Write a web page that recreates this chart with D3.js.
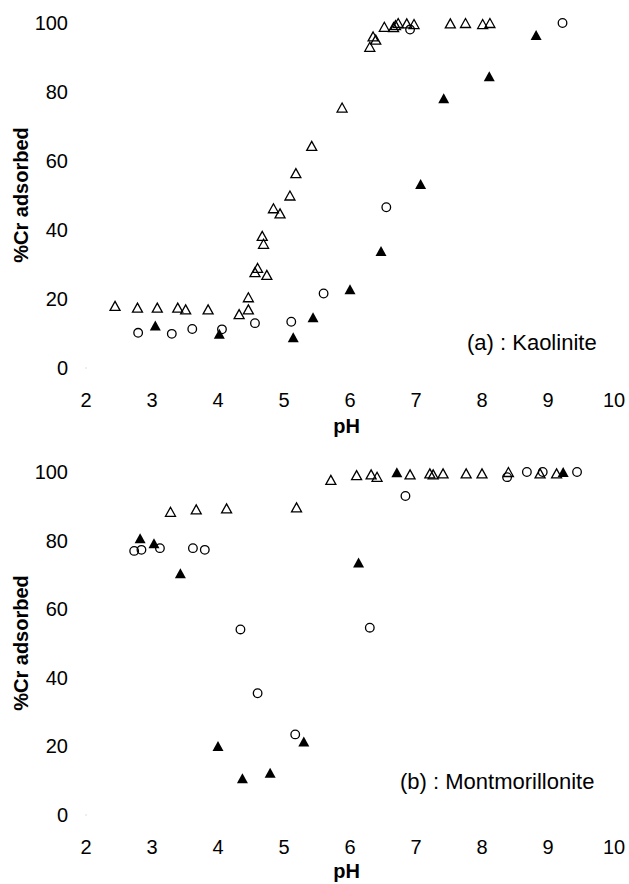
<!DOCTYPE html>
<html>
<head>
<meta charset="utf-8">
<script src="https://cdn.jsdelivr.net/npm/d3@7"></script>
<style>
  html, body { margin: 0; padding: 0; background: #fff; }
  svg { display: block; }
  text { font-family: "Liberation Sans", Arial, sans-serif; fill: #000; }
</style>
</head>
<body>
<svg id="chart" width="629" height="884"></svg>
<script>
// ---------- DATA ----------
const xTicks = [2, 3, 4, 5, 6, 7, 8, 9, 10];
const yTicks = [0, 20, 40, 60, 80, 100];

// (a) Kaolinite
const kaoOpenTri = [
  [2.44, 18.0], [2.78, 17.5], [3.08, 17.5], [3.39, 17.5], [3.51, 17.0], [3.85, 17.0],
  [4.32, 15.6], [4.46, 17.0], [4.46, 20.5], [4.56, 27.8], [4.60, 29.0], [4.74, 27.0],
  [4.69, 36.0], [4.67, 38.3], [4.84, 46.3], [4.94, 44.8], [5.09, 50.0], [5.18, 56.5],
  [5.42, 64.4], [5.88, 75.5], [6.30, 93.1], [6.35, 96.1], [6.39, 95.2], [6.52, 98.9],
  [6.66, 98.8], [6.69, 99.4], [6.73, 100.0], [6.86, 99.9], [6.97, 99.7], [7.52, 99.9],
  [7.75, 100.0], [8.01, 99.7], [8.12, 100.0]
];
const kaoFilledTri = [
  [3.05, 12.3], [4.02, 9.9], [5.14, 8.9], [5.44, 14.7], [6.00, 22.8], [6.47, 33.9],
  [7.07, 53.3], [7.42, 78.2], [8.11, 84.6], [8.82, 96.5]
];
const kaoCircle = [
  [2.79, 10.2], [3.30, 9.9], [3.61, 11.3], [4.06, 11.2], [4.56, 13.0], [5.11, 13.4],
  [5.60, 21.6], [6.55, 46.6], [6.91, 98.1], [9.22, 100.0]
];

// (b) Montmorillonite
const monOpenTri = [
  [3.28, 88.4], [3.67, 89.1], [4.13, 89.4], [5.19, 89.7], [5.71, 97.7], [6.10, 99.1],
  [6.32, 99.3], [6.41, 98.6], [6.91, 99.3], [7.21, 99.6], [7.26, 99.3], [7.41, 99.6],
  [7.76, 99.6], [8.00, 99.6], [8.40, 100.0], [8.88, 99.6], [9.13, 99.6]
];
const monFilledTri = [
  [2.82, 80.7], [3.03, 79.2], [3.43, 70.5], [4.00, 20.1], [4.37, 10.7], [4.79, 12.3],
  [5.30, 21.4], [6.13, 73.6], [6.71, 99.9], [9.23, 100.0]
];
const monCircle = [
  [2.73, 77.0], [2.84, 77.3], [3.12, 77.8], [3.62, 77.8], [3.80, 77.3], [4.34, 54.1],
  [4.60, 35.5], [5.17, 23.5], [6.30, 54.6], [6.84, 93.0], [8.38, 98.5], [8.68, 100.0],
  [8.92, 100.0], [9.44, 100.0]
];

const panels = [
  { label: "(a) : Kaolinite", y0: 368, y100: 23, labelX: 467, labelY: 350, pHY: 433,
    openTri: kaoOpenTri, filledTri: kaoFilledTri, circle: kaoCircle, titleY: 195 },
  { label: "(b) : Montmorillonite", y0: 815, y100: 472, labelX: 400, labelY: 789, pHY: 878,
    openTri: monOpenTri, filledTri: monFilledTri, circle: monCircle, titleY: 643 }
];

// ---------- DRAW ----------
const svg = d3.select("#chart");
const x = d3.scaleLinear().domain([2, 10]).range([86, 614]);

function triPath(w, h) {
  return `M0,${-h/2}L${w/2},${h/2}L${-w/2},${h/2}Z`;
}

panels.forEach(p => {
  const y = d3.scaleLinear().domain([0, 100]).range([p.y0, p.y100]);
  const g = svg.append("g");

  // tiny origin mark
  g.append("rect").attr("x", x(2) - 0.5).attr("y", y(0) - 0.5)
    .attr("width", 1).attr("height", 1).attr("fill", "#bbb");

  // y tick labels
  g.selectAll(".yt").data(yTicks).join("text")
    .attr("x", 68).attr("y", d => y(d) + 7)
    .attr("text-anchor", "end").attr("font-size", 20).text(d => d);

  // x tick labels
  g.selectAll(".xt").data(xTicks).join("text")
    .attr("x", d => x(d)).attr("y", p.y0 + 39)
    .attr("text-anchor", "middle").attr("font-size", 20).text(d => d);

  // axis titles
  g.append("text").attr("x", x(5.95)).attr("y", p.pHY)
    .attr("text-anchor", "middle").attr("font-size", 20).attr("font-weight", "bold").text("pH");
  g.append("text")
    .attr("transform", `translate(28,${p.titleY}) rotate(-90)`)
    .attr("text-anchor", "middle").attr("font-size", 20).attr("font-weight", "bold")
    .text("%Cr adsorbed");

  // panel label
  g.append("text").attr("x", p.labelX).attr("y", p.labelY)
    .attr("font-size", 22).text(p.label);

  // open triangles
  g.selectAll(".ot").data(p.openTri).join("path")
    .attr("transform", d => `translate(${x(d[0])},${y(d[1])})`)
    .attr("d", triPath(10, 9))
    .attr("fill", "none").attr("stroke", "#000").attr("stroke-width", 1.3);

  // circles
  g.selectAll(".oc").data(p.circle).join("circle")
    .attr("cx", d => x(d[0])).attr("cy", d => y(d[1])).attr("r", 4.3)
    .attr("fill", "none").attr("stroke", "#000").attr("stroke-width", 1.3);

  // filled triangles
  g.selectAll(".ft").data(p.filledTri).join("path")
    .attr("transform", d => `translate(${x(d[0])},${y(d[1])})`)
    .attr("d", triPath(11, 10))
    .attr("fill", "#000").attr("stroke", "none");
});
</script>
</body>
</html>
